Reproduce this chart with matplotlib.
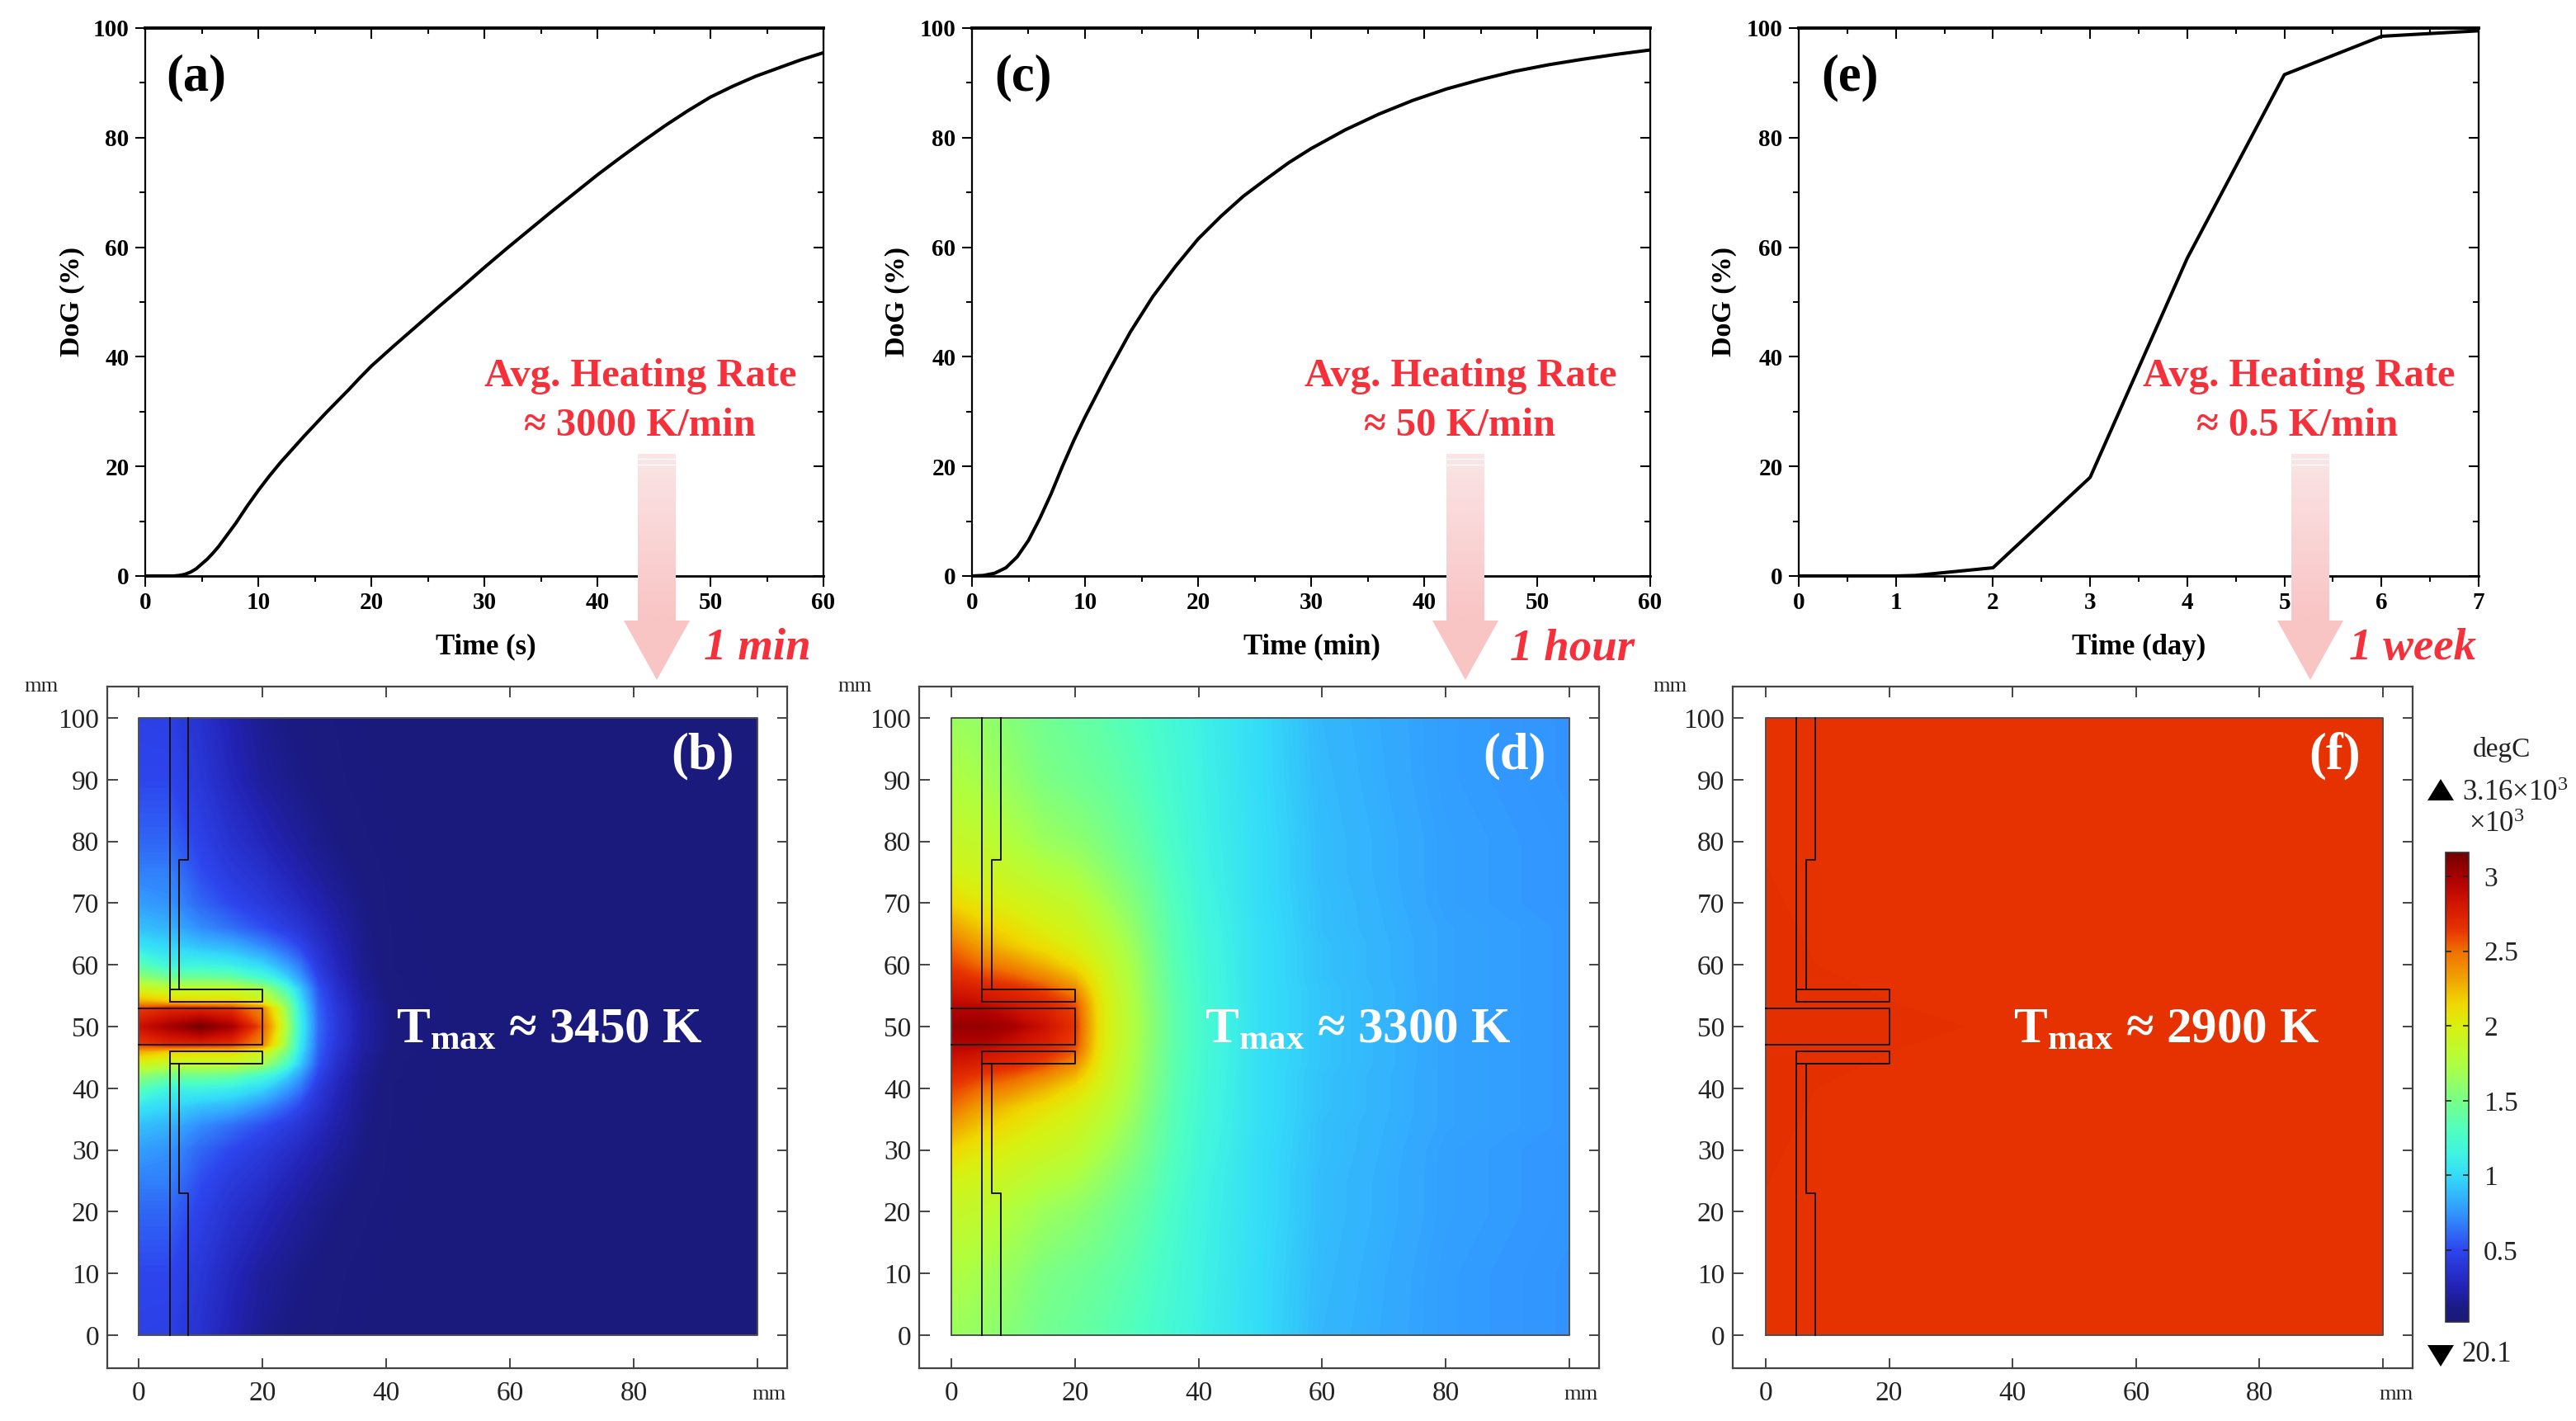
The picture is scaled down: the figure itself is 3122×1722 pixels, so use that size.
import numpy as np
import matplotlib
matplotlib.use("Agg")
import matplotlib.pyplot as plt
from matplotlib.colors import LinearSegmentedColormap, Normalize
from matplotlib.cm import ScalarMappable
from matplotlib.patches import Polygon
from matplotlib.ticker import MultipleLocator

plt.rcParams['font.family'] = ['Liberation Serif', 'DejaVu Serif']
plt.rcParams['mathtext.fontset'] = 'custom'
plt.rcParams['mathtext.rm'] = 'Liberation Serif'
plt.rcParams['mathtext.bf'] = 'Liberation Serif:bold'
plt.rcParams['mathtext.default'] = 'regular'

W, H = 3122, 1722

# ---- degree of graphitization curves ----
t_a = [0, 2.5, 3, 3.5, 4, 4.5, 5, 5.5, 6, 6.5, 7, 8, 9, 10, 11, 12, 13, 14, 15, 16, 17, 18, 19, 20,
       22, 24, 26, 28, 30, 32, 34, 36, 38, 40, 42, 44, 46, 48, 50, 52, 54, 56, 58, 60]
dog_a = [0, 0, 0.1, 0.3, 0.7, 1.3, 2.2, 3.1, 4.2, 5.4, 6.8, 9.6, 12.7, 15.6, 18.3, 20.8, 23.1, 25.4, 27.6, 29.8,
         31.9, 34, 36.2, 38.3, 42, 45.6, 49.2, 52.7, 56.3, 59.8, 63.2, 66.6, 69.9, 73.2, 76.3, 79.3, 82.2,
         84.9, 87.4, 89.4, 91.2, 92.7, 94.2, 95.5]
t_c = [0, 1, 2, 3, 4, 5, 6, 7, 8, 9, 10, 12, 14, 16, 18, 20, 22, 24, 26, 28, 30, 33, 36, 39, 42, 45, 48, 51, 54, 57, 60]
dog_c = [0, 0.1, 0.5, 1.5, 3.5, 6.5, 10.5, 15, 20, 24.7, 29, 37, 44.5, 51, 56.5, 61.5, 65.6, 69.3, 72.4, 75.4, 78,
         81.4, 84.3, 86.8, 88.9, 90.6, 92.1, 93.3, 94.3, 95.2, 96]
t_e = [0, 1, 1.2, 2, 3, 4, 5, 6, 7]
dog_e = [0, 0, 0.1, 1.5, 18, 58, 91.5, 98.5, 99.5]

# ---- temperature fields (x10^3 degC), nodes: x and distance from y=50 ----
x_nodes = [0, 5, 10, 15, 20, 22, 24, 26, 29, 32, 36, 41, 50, 60, 80, 100]
d_nodes = [0, 3, 4, 6, 8, 10, 13, 16, 20, 25, 30, 40, 50]
T_b = [
    [2.85, 3.00, 3.15, 3.00, 2.55, 2.20, 1.70, 1.15, 0.62, 0.42, 0.22, 0.10, 0.05, 0.03, 0.02, 0.02],
    [2.60, 2.70, 2.70, 2.65, 2.40, 2.05, 1.60, 1.10, 0.60, 0.40, 0.21, 0.10, 0.05, 0.03, 0.02, 0.02],
    [2.30, 2.20, 2.15, 2.15, 2.00, 1.75, 1.50, 1.05, 0.58, 0.38, 0.20, 0.09, 0.05, 0.03, 0.02, 0.02],
    [1.95, 1.85, 1.85, 1.85, 1.70, 1.50, 1.25, 0.95, 0.55, 0.35, 0.18, 0.08, 0.04, 0.03, 0.02, 0.02],
    [1.60, 1.45, 1.45, 1.40, 1.20, 1.10, 0.95, 0.78, 0.48, 0.31, 0.16, 0.08, 0.04, 0.03, 0.02, 0.02],
    [1.35, 1.15, 1.15, 1.10, 0.98, 0.88, 0.78, 0.66, 0.42, 0.28, 0.15, 0.07, 0.04, 0.03, 0.02, 0.02],
    [1.05, 0.98, 0.90, 0.85, 0.72, 0.65, 0.58, 0.50, 0.36, 0.25, 0.14, 0.07, 0.03, 0.02, 0.02, 0.02],
    [0.90, 0.85, 0.72, 0.63, 0.53, 0.48, 0.44, 0.39, 0.30, 0.22, 0.13, 0.07, 0.03, 0.02, 0.02, 0.02],
    [0.78, 0.74, 0.60, 0.50, 0.42, 0.38, 0.34, 0.30, 0.24, 0.18, 0.12, 0.06, 0.03, 0.02, 0.02, 0.02],
    [0.68, 0.68, 0.52, 0.42, 0.35, 0.30, 0.27, 0.23, 0.18, 0.14, 0.10, 0.06, 0.03, 0.02, 0.02, 0.02],
    [0.60, 0.60, 0.47, 0.36, 0.28, 0.24, 0.21, 0.18, 0.14, 0.11, 0.08, 0.05, 0.02, 0.02, 0.02, 0.02],
    [0.50, 0.50, 0.40, 0.28, 0.18, 0.16, 0.14, 0.12, 0.10, 0.08, 0.06, 0.04, 0.02, 0.02, 0.02, 0.02],
    [0.47, 0.46, 0.36, 0.24, 0.15, 0.13, 0.11, 0.10, 0.08, 0.07, 0.05, 0.04, 0.02, 0.02, 0.02, 0.02],
]
T_d = [
    [3.05, 3.05, 3.00, 2.85, 2.65, 2.35, 2.10, 1.95, 1.78, 1.60, 1.38, 1.22, 1.02, 0.92, 0.80, 0.76],
    [2.95, 2.95, 2.85, 2.75, 2.60, 2.33, 2.08, 1.94, 1.77, 1.59, 1.38, 1.22, 1.02, 0.92, 0.80, 0.76],
    [2.90, 2.85, 2.78, 2.70, 2.55, 2.30, 2.07, 1.93, 1.76, 1.58, 1.37, 1.21, 1.02, 0.92, 0.80, 0.76],
    [2.80, 2.75, 2.70, 2.60, 2.40, 2.22, 2.04, 1.91, 1.75, 1.57, 1.37, 1.21, 1.02, 0.92, 0.80, 0.76],
    [2.70, 2.62, 2.55, 2.42, 2.25, 2.12, 2.00, 1.88, 1.73, 1.56, 1.36, 1.20, 1.02, 0.91, 0.80, 0.76],
    [2.62, 2.50, 2.40, 2.27, 2.12, 2.04, 1.95, 1.85, 1.71, 1.55, 1.35, 1.20, 1.02, 0.91, 0.80, 0.76],
    [2.50, 2.32, 2.20, 2.10, 2.00, 1.94, 1.87, 1.80, 1.67, 1.52, 1.34, 1.19, 1.02, 0.91, 0.80, 0.76],
    [2.33, 2.20, 2.10, 2.00, 1.93, 1.87, 1.81, 1.74, 1.63, 1.49, 1.33, 1.18, 1.02, 0.90, 0.80, 0.76],
    [2.15, 2.05, 1.98, 1.91, 1.85, 1.79, 1.73, 1.66, 1.57, 1.46, 1.31, 1.17, 1.01, 0.90, 0.79, 0.75],
    [1.97, 1.93, 1.86, 1.78, 1.72, 1.67, 1.62, 1.57, 1.49, 1.41, 1.28, 1.15, 1.01, 0.89, 0.79, 0.75],
    [1.88, 1.85, 1.75, 1.66, 1.60, 1.57, 1.53, 1.49, 1.43, 1.36, 1.25, 1.14, 1.01, 0.89, 0.79, 0.75],
    [1.75, 1.70, 1.62, 1.52, 1.47, 1.45, 1.43, 1.40, 1.36, 1.30, 1.22, 1.13, 1.00, 0.88, 0.78, 0.74],
    [1.65, 1.62, 1.55, 1.47, 1.42, 1.40, 1.38, 1.35, 1.31, 1.26, 1.20, 1.12, 1.00, 0.87, 0.78, 0.74],
]
x_nodes_f = [0, 20, 50, 100]
d_nodes_f = [0, 10, 50]
T_f = [
    [2.66, 2.66, 2.65, 2.65],
    [2.66, 2.65, 2.65, 2.65],
    [2.65, 2.65, 2.65, 2.65],
]

# ---- reactor outline (mm, upper half; lower half mirrored about y=50) ----
wall_x = [5, 5]
wall_y = [100, 54]
outer_x = [8, 8, 6.5, 6.5]
outer_y = [100, 77, 77, 56]
sleeve_x = [5, 20, 20, 5]
sleeve_y = [56, 56, 54, 54]
rod_x = [0, 20, 20, 0]
rod_y = [53, 53, 47, 47]

# ---- colour scale ----
T_MIN, T_MAX = 0.0201, 3.16
cbar_vals = [0.0201, 0.1, 0.25, 0.5, 0.75, 1.0, 1.15, 1.3, 1.5, 1.75, 2.0, 2.15, 2.3, 2.5, 2.65, 2.85, 3.0, 3.16]
cbar_cols = ['#1a1a7c', '#1a1a80', '#2222b4', '#2d45ee', '#3296ff', '#34dcf8', '#40f4e0', '#50ffc0',
             '#78ff88', '#b0ff40', '#d8f010', '#f0d800', '#f0a800', '#f07000', '#e63200', '#cc1000', '#a80000', '#720000']
cmap = LinearSegmentedColormap.from_list(
    'field', [((v - T_MIN) / (T_MAX - T_MIN), c) for v, c in zip(cbar_vals, cbar_cols)], N=512)
norm = Normalize(T_MIN, T_MAX)

fig = plt.figure(figsize=(W / 100, H / 100), dpi=100, facecolor='white')


def px_axes(l, t, r, b, **kw):
    return fig.add_axes([l / W, 1 - b / H, (r - l) / W, (b - t) / H], **kw)


def curve_panel(l, r, t_vals, dog, xmax, xmaj, xmin):
    ax = px_axes(l, 34, r, 698)
    ax.plot(t_vals, dog, color='black', lw=2.9, solid_capstyle='round', solid_joinstyle='round')
    ax.set_xlim(0, xmax)
    ax.set_ylim(0, 100)
    ax.xaxis.set_major_locator(MultipleLocator(xmaj))
    ax.xaxis.set_minor_locator(MultipleLocator(xmin))
    ax.yaxis.set_major_locator(MultipleLocator(20))
    ax.yaxis.set_minor_locator(MultipleLocator(10))
    for s in ax.spines.values():
        s.set_linewidth(1.6)
    ax.spines['top'].set_linewidth(2.8)
    ax.spines['bottom'].set_linewidth(2.0)
    ax.tick_params(which='major', direction='out', length=9, width=1.5, labelsize=21, pad=5)
    ax.tick_params(which='minor', direction='out', length=5, width=1.5)
    axt = ax.secondary_xaxis('top')
    axt.xaxis.set_major_locator(MultipleLocator(xmaj))
    axt.xaxis.set_minor_locator(MultipleLocator(xmin))
    axt.tick_params(which='major', direction='in', length=9, width=1.5, labeltop=False)
    axt.tick_params(which='minor', direction='in', length=5, width=1.5)
    axr = ax.secondary_yaxis('right')
    axr.yaxis.set_major_locator(MultipleLocator(20))
    axr.yaxis.set_minor_locator(MultipleLocator(10))
    axr.tick_params(which='major', direction='in', length=9, width=1.5, labelright=False)
    axr.tick_params(which='minor', direction='in', length=5, width=1.5)
    for lab in ax.get_xticklabels() + ax.get_yticklabels():
        lab.set_fontweight('bold')
    return ax


curve_panel(176, 998, t_a, dog_a, 60, 10, 5)
curve_panel(1178, 2000, t_c, dog_c, 60, 10, 5)
curve_panel(2180, 3004, t_e, dog_e, 7, 1, 0.5)


def field_panel(fl, fr, x0, x100, xn, dn, T):
    ft, fb, y100, y0 = 832, 1658, 870, 1618
    ax = px_axes(fl, ft, fr, fb)
    sx = (x100 - x0) / 100
    sy = (y0 - y100) / 100
    ax.set_xlim((fl - x0) / sx, (fr - x0) / sx)
    ax.set_ylim((y0 - fb) / sy, (y0 - ft) / sy)
    T = np.array(T)
    d = np.array(dn, float)
    y_full = np.concatenate([50 - d[::-1], 50 + d[1:]])
    T_full = np.vstack([T[::-1], T[1:]])
    levels = np.linspace(T_MIN, T_MAX, 300)
    ax.contourf(xn, y_full, T_full, levels=levels, cmap=cmap, norm=norm, extend='both', zorder=1)
    ax.plot([0, 100, 100, 0, 0], [0, 0, 100, 100, 0], color='#505050', lw=1.4, zorder=3)
    lw = 1.4
    col = '#1a1008'
    for sign in (1, -1):
        my = lambda v: 50 + sign * (np.array(v, float) - 50)
        ax.plot(wall_x, my(wall_y), color=col, lw=lw, zorder=4)
        ax.plot(outer_x, my(outer_y), color=col, lw=lw, zorder=4)
        ax.plot(sleeve_x + sleeve_x[:1], my(sleeve_y + sleeve_y[:1]), color=col, lw=lw, zorder=4)
    ax.plot(rod_x, rod_y, color=col, lw=lw, zorder=4)
    ax.set_xticks([0, 20, 40, 60, 80, 100])
    ax.set_xticklabels(['0', '20', '40', '60', '80', ''])
    ax.set_yticks(np.arange(0, 101, 10))
    ax.tick_params(direction='in', top=True, right=True, length=9, width=1.4, color='#444444',
                   labelsize=24, labelcolor='#222222', pad=7)
    ax.tick_params(axis='x', pad=11)
    for s in ax.spines.values():
        s.set_linewidth(1.6)
        s.set_color('#444444')
    return ax


field_panel(130, 954, 168, 918, x_nodes, d_nodes, T_b)
field_panel(1114, 1938, 1153, 1902, x_nodes, d_nodes, T_d)
field_panel(2100, 2924, 2140, 2888, x_nodes_f, d_nodes_f, T_f)

# ---- colour bar ----
cax = px_axes(2964, 1033, 2992, 1602)
cb = fig.colorbar(ScalarMappable(norm=norm, cmap=cmap), cax=cax)
cb.set_ticks([0.5, 1, 1.5, 2, 2.5, 3])
cb.set_ticklabels(['0.5', '1', '1.5', '2', '2.5', '3'])
cb.minorticks_off()
cax.tick_params(axis='y', direction='in', left=True, right=True, length=5, width=1.2,
                color='#222222', labelsize=24, labelcolor='#222222', pad=13)
cb.outline.set_linewidth(1.2)
cb.outline.set_edgecolor('#333333')

# ---- overlay in pixel coordinates ----
ov = fig.add_axes([0, 0, 1, 1], zorder=20)
ov.patch.set_alpha(0)
ov.axis('off')

RED = '#f5303a'
grad = LinearSegmentedColormap.from_list('arrow', ['#fbe5e6', '#f9c4c4'])
for cx in (796, 1776, 2800):
    ov.imshow(np.linspace(0, 1, 128)[:, None], extent=[cx - 23, cx + 23, 752, 550], cmap=grad,
              aspect='auto', interpolation='bilinear', zorder=2)
    ov.add_patch(Polygon([[cx - 40, 752], [cx + 40, 752], [cx, 824]], closed=True, fc='#f9c4c4', ec='none', zorder=2))
    ov.plot([cx - 23, cx + 23], [556, 556], color='white', lw=1, zorder=3)
    ov.plot([cx - 23, cx + 23], [563, 563], color='white', lw=1, zorder=3)
ov.set_xlim(0, W)
ov.set_ylim(H, 0)


def txt(x, y, s, **kw):
    kw.setdefault('ha', 'center')
    kw.setdefault('va', 'center')
    ov.text(x, y, s, **kw)


for x, s in [(238, '(a)'), (1240, '(c)'), (2242, '(e)')]:
    txt(x, 94, s, fontsize=45, fontweight='bold', color='black')
for x, s in [(852, '(b)'), (1836, '(d)'), (2830, '(f)')]:
    txt(x, 916, s, fontsize=45, fontweight='bold', color='white')
for x, s in [(88, 'DoG (%)'), (1088, 'DoG (%)'), (2090, 'DoG (%)')]:
    txt(x, 366, s, fontsize=24.5, fontweight='bold', rotation=90)
for x, s in [(589, 'Time (s)'), (1590, 'Time (min)'), (2592, 'Time (day)')]:
    txt(x, 784, s, fontsize=25, fontweight='bold')
for x1, x2, s in [(776, 775, '3000'), (1770, 1769, '50'), (2786, 2784, '0.5')]:
    txt(x1, 456, 'Avg. Heating Rate', fontsize=35, fontweight='bold', color=RED)
    txt(x2, 516, '≈ ' + s + ' K/min', fontsize=35, fontweight='bold', color=RED)
for x, s in [(918, '1 min'), (1906, '1 hour'), (2924, '1 week')]:
    txt(x, 786, s, fontsize=39.5, fontweight='bold', fontstyle='italic', color=RED)
for x, s in [(666, '3450'), (1646, '3300'), (2626, '2900')]:
    txt(x, 1248, r'T$_{\mathbf{max}}$ ≈ ' + s + ' K', fontsize=44, fontweight='bold', color='white', zorder=6)
for x in (50, 1036, 2024):
    txt(x, 832, 'mm', fontsize=19, color='#222222')
for x in (932, 1916, 2904):
    txt(x, 1690, 'mm', fontsize=19, color='#222222')

txt(3032, 908, 'degC', fontsize=24, color='#222222')
txt(2984, 962, '3.16×10$^{3}$', fontsize=25, color='#222222', ha='left')
txt(2992, 1000, '×10$^{3}$', fontsize=25, color='#222222', ha='left')
txt(2984, 1642, '20.1', fontsize=25, color='#222222', ha='left')
ov.add_patch(Polygon([[2942, 970], [2974, 970], [2958, 944]], closed=True, fc='black', ec='none'))
ov.add_patch(Polygon([[2942, 1630], [2974, 1630], [2958, 1656]], closed=True, fc='black', ec='none'))

fig.savefig('out.png', dpi=100, facecolor='white')
